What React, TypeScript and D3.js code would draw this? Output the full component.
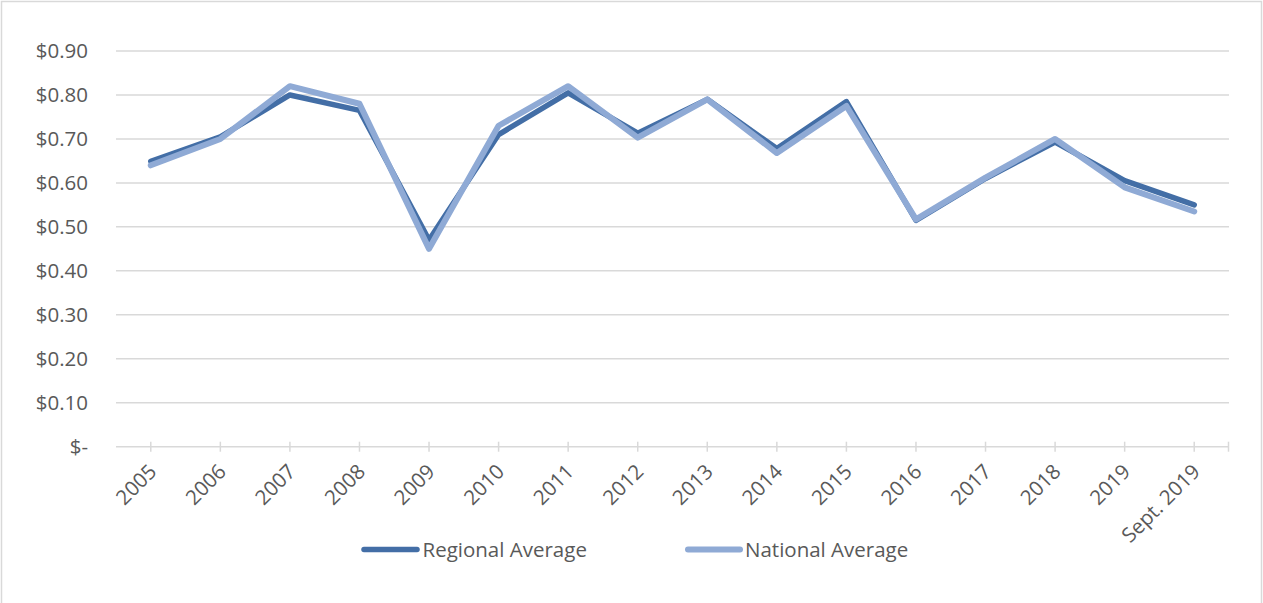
import React from "react";
import * as d3 from "d3";

const categories = ["2005","2006","2007","2008","2009","2010","2011","2012","2013","2014","2015","2016","2017","2018","2019","Sept. 2019"];
const regional = [0.649,0.705,0.800,0.765,0.470,0.710,0.805,0.713,0.790,0.678,0.785,0.515,0.610,0.693,0.605,0.550];
const national = [0.640,0.700,0.820,0.780,0.450,0.730,0.820,0.703,0.790,0.668,0.775,0.517,0.612,0.700,0.590,0.535];
const yTicks = [0,0.1,0.2,0.3,0.4,0.5,0.6,0.7,0.8,0.9];
const seriesNames = ["Regional Average","National Average"];

const W = 1263, H = 603;
const FONT = "'Open Sans', sans-serif";
const TEXT = "#595959";
const GRID = "#d9d9d9";
const C_REG = "#436EA6";
const C_NAT = "#8FAAD5";

export default function App() {
  const x = d3.scaleBand<string>().domain(categories).range([116, 1229]).padding(0);
  const y = d3.scaleLinear().domain([0, 0.9]).range([446.7, 51]);
  const cx = (c: string) => (x(c) as number) + x.bandwidth() / 2;
  const line = d3.line<number>()
    .x((_, i) => cx(categories[i]))
    .y((d) => y(d));
  const fmt = (v: number) => (v === 0 ? "$-" : "$" + d3.format(".2f")(v));

  return (
    <div style={{ position: "absolute", left: 0, top: 0 }}>
      <svg width={W} height={H} style={{ display: "block", background: "#fff" }}>
        <rect x={1.5} y={1.5} width={1260} height={620} fill="#fff" stroke={GRID} strokeWidth={1.5} />
        {yTicks.map((t) => (
          <g key={t}>
            {t > 0 && <line x1={116} x2={1229} y1={y(t)} y2={y(t)} stroke={GRID} strokeWidth={1.5} />}
            <text x={88} y={y(t)} dy="0.36em" textAnchor="end" fontFamily={FONT} fontSize={20.5} fill={TEXT}>
              {fmt(t)}
            </text>
          </g>
        ))}
        {/* x axis */}
        <line x1={116} x2={1229} y1={y(0)} y2={y(0)} stroke={GRID} strokeWidth={1.5} />
        {categories.map((c) => (
          <line key={"t" + c} x1={cx(c)} x2={cx(c)} y1={y(0) - 5} y2={y(0) + 5} stroke={GRID} strokeWidth={1.5} />
        ))}
        <line x1={1228.5} x2={1228.5} y1={y(0) - 5} y2={y(0) + 5} stroke={GRID} strokeWidth={1.5} />
        {categories.map((c) => {
          const px = cx(c) + 7;
          const py = 473;
          return (
            <text key={"l" + c} x={px} y={py} transform={`rotate(-45 ${px} ${py})`} textAnchor="end"
              fontFamily={FONT} fontSize={20.5} fill={TEXT}>
              {c}
            </text>
          );
        })}
        <path d={line(regional) || ""} fill="none" stroke={C_REG} strokeWidth={5.5} strokeLinejoin="round" strokeLinecap="round" />
        <path d={line(national) || ""} fill="none" stroke={C_NAT} strokeWidth={6} strokeLinejoin="round" strokeLinecap="round" />
        {/* legend */}
        <line x1={364} x2={417} y1={549.5} y2={549.5} stroke={C_REG} strokeWidth={5.5} strokeLinecap="round" />
        <text x={422.5} y={549.5} dy="0.36em" fontFamily={FONT} fontSize={20.5} fill={TEXT}>{seriesNames[0]}</text>
        <line x1={688} x2={740} y1={549.5} y2={549.5} stroke={C_NAT} strokeWidth={6} strokeLinecap="round" />
        <text x={745} y={549.5} dy="0.36em" fontFamily={FONT} fontSize={20.5} fill={TEXT}>{seriesNames[1]}</text>
      </svg>
    </div>
  );
}
